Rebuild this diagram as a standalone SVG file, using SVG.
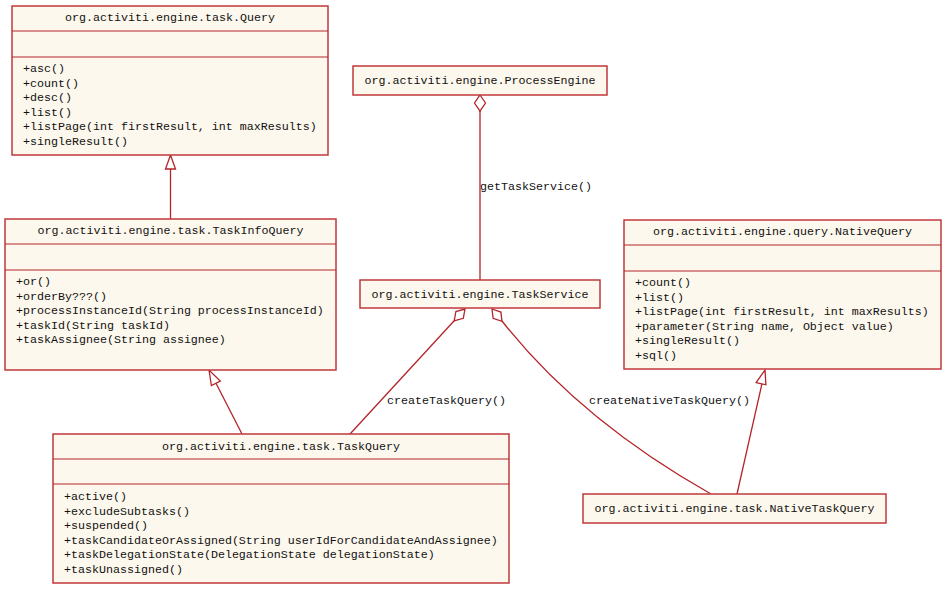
<svg xmlns="http://www.w3.org/2000/svg" width="946" height="589" viewBox="0 0 946 589">
<style>
.box{fill:#fdf8ed;stroke:#c0393d;stroke-width:1.5}
.sep{stroke:#b3242a;stroke-width:1}
.t{font-family:"Liberation Mono","DejaVu Sans Mono",monospace;font-size:11.67px;fill:#111}
.c{text-anchor:middle}
.ln{fill:none;stroke:#b3242a;stroke-width:1.3}
.hd{fill:#fff;stroke:#b3242a;stroke-width:1.3}
</style>
<rect width="946" height="589" fill="#fff"/>
<g id="connectors">
<line class="ln" x1="170.5" y1="219" x2="170.5" y2="169"/>
<polygon class="hd" points="170.5,155 165.5,169 175.5,169"/>
<line class="ln" x1="242" y1="434" x2="216" y2="383.3"/>
<polygon class="hd" points="209,370 211.4,385.6 220.3,381"/>
<line class="ln" x1="737" y1="494" x2="762" y2="383.7"/>
<polygon class="hd" points="765,370 756.1,382.6 765.9,384.8"/>
<line class="ln" x1="480" y1="111" x2="480" y2="280"/>
<polygon class="hd" points="480,95 485.5,103 480,111 474.5,103"/>
<line class="ln" x1="454.2" y1="320.8" x2="350" y2="434"/>
<polygon class="hd" points="465,309 463.3,318.3 454.2,320.8 455.9,311.5"/>
<path class="ln" d="M502 321 Q580 420 711 494"/>
<polygon class="hd" points="492,309 500.9,312.1 502,321.4 493.1,318.3"/>
<text class="t" x="480" y="190">getTaskService()</text>
<text class="t" x="387" y="404">createTaskQuery()</text>
<text class="t" x="589" y="404">createNativeTaskQuery()</text>
</g>
<g id="Query">
<rect class="box" x="12" y="6" width="316" height="149"/>
<line class="sep" x1="12" y1="31" x2="328" y2="31"/>
<line class="sep" x1="12" y1="57" x2="328" y2="57"/>
<text class="t c" x="170" y="21">org.activiti.engine.task.Query</text>
<text class="t" x="23" y="72">+asc()</text>
<text class="t" x="23" y="86.5">+count()</text>
<text class="t" x="23" y="101">+desc()</text>
<text class="t" x="23" y="115.5">+list()</text>
<text class="t" x="23" y="130">+listPage(int firstResult, int maxResults)</text>
<text class="t" x="23" y="144.5">+singleResult()</text>
</g>
<g id="TaskInfoQuery">
<rect class="box" x="5" y="219" width="331" height="151"/>
<line class="sep" x1="5" y1="244" x2="336" y2="244"/>
<line class="sep" x1="5" y1="270" x2="336" y2="270"/>
<text class="t c" x="170.5" y="234">org.activiti.engine.task.TaskInfoQuery</text>
<text class="t" x="16" y="285">+or()</text>
<text class="t" x="16" y="299.5">+orderBy???()</text>
<text class="t" x="16" y="314">+processInstanceId(String processInstanceId)</text>
<text class="t" x="16" y="328.5">+taskId(String taskId)</text>
<text class="t" x="16" y="343">+taskAssignee(String assignee)</text>
</g>
<g id="ProcessEngine">
<rect class="box" x="353" y="66" width="254" height="29"/>
<text class="t c" x="480" y="83.5">org.activiti.engine.ProcessEngine</text>
</g>
<g id="TaskService">
<rect class="box" x="360" y="280" width="240" height="28"/>
<text class="t c" x="480" y="298">org.activiti.engine.TaskService</text>
</g>
<g id="NativeQuery">
<rect class="box" x="624" y="220" width="317" height="149"/>
<line class="sep" x1="624" y1="245" x2="941" y2="245"/>
<line class="sep" x1="624" y1="271" x2="941" y2="271"/>
<text class="t c" x="782.5" y="235">org.activiti.engine.query.NativeQuery</text>
<text class="t" x="635" y="286">+count()</text>
<text class="t" x="635" y="300.5">+list()</text>
<text class="t" x="635" y="315">+listPage(int firstResult, int maxResults)</text>
<text class="t" x="635" y="329.5">+parameter(String name, Object value)</text>
<text class="t" x="635" y="344">+singleResult()</text>
<text class="t" x="635" y="358.5">+sql()</text>
</g>
<g id="TaskQuery">
<rect class="box" x="53" y="434" width="456" height="149"/>
<line class="sep" x1="53" y1="459" x2="509" y2="459"/>
<line class="sep" x1="53" y1="484" x2="509" y2="484"/>
<text class="t c" x="281" y="450">org.activiti.engine.task.TaskQuery</text>
<text class="t" x="64" y="500">+active()</text>
<text class="t" x="64" y="514.5">+excludeSubtasks()</text>
<text class="t" x="64" y="529">+suspended()</text>
<text class="t" x="64" y="543.5">+taskCandidateOrAssigned(String userIdForCandidateAndAssignee)</text>
<text class="t" x="64" y="558">+taskDelegationState(DelegationState delegationState)</text>
<text class="t" x="64" y="572.5">+taskUnassigned()</text>
</g>
<g id="NativeTaskQuery">
<rect class="box" x="583" y="494" width="303" height="29"/>
<text class="t c" x="734.5" y="512">org.activiti.engine.task.NativeTaskQuery</text>
</g>
</svg>
